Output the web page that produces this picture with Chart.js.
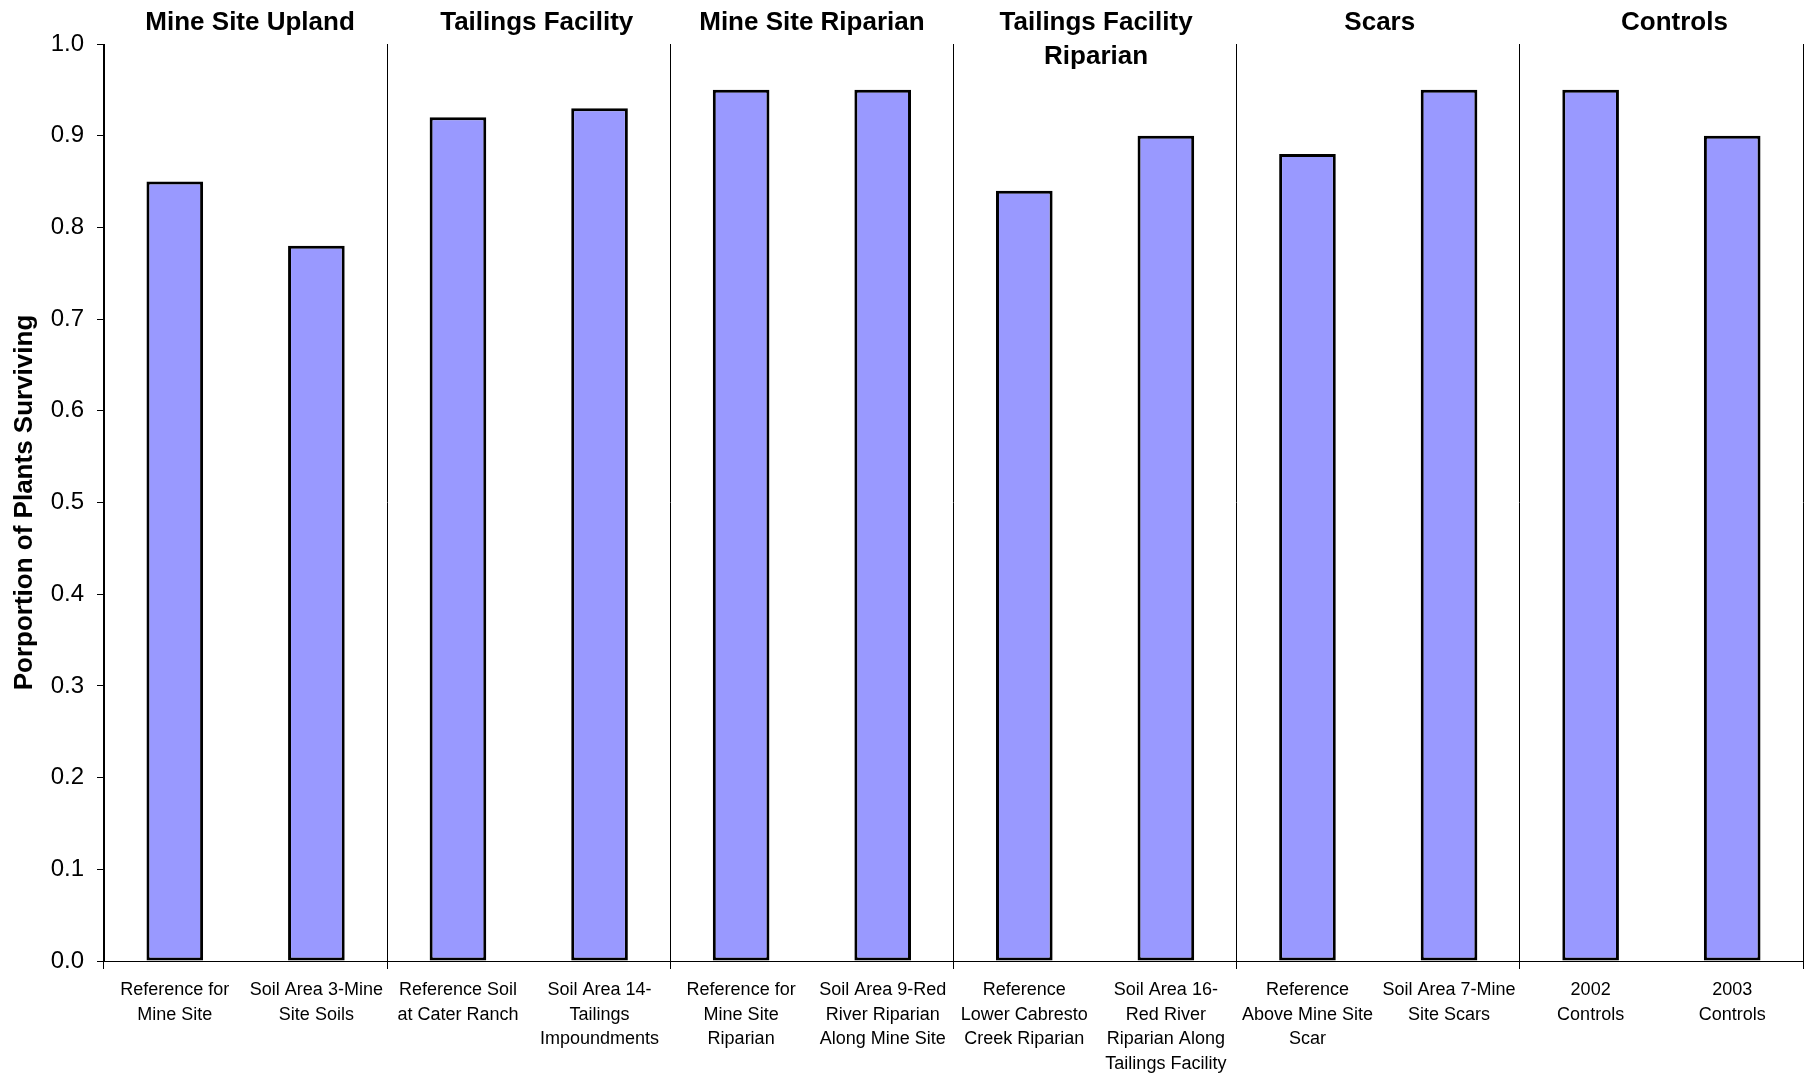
<!DOCTYPE html>
<html>
<head>
<meta charset="utf-8">
<title>Proportion of Plants Surviving</title>
<script src="https://cdn.jsdelivr.net/npm/chart.js@4/dist/chart.umd.min.js"></script>
<style>
  html, body { margin: 0; padding: 0; background: #fff; }
  canvas { display: block; }
</style>
</head>
<body>
<canvas id="chart" width="1811" height="1075"></canvas>
<script>
// Site categories (multi-line tick labels)
const categories = [
  ["Reference for", "Mine Site"],
  ["Soil Area 3-Mine", "Site Soils"],
  ["Reference Soil", "at Cater Ranch"],
  ["Soil Area 14-", "Tailings", "Impoundments"],
  ["Reference for", "Mine Site", "Riparian"],
  ["Soil Area 9-Red", "River Riparian", "Along Mine Site"],
  ["Reference", "Lower Cabresto", "Creek Riparian"],
  ["Soil Area 16-", "Red River", "Riparian Along", "Tailings Facility"],
  ["Reference", "Above Mine Site", "Scar"],
  ["Soil Area 7-Mine", "Site Scars"],
  ["2002", "Controls"],
  ["2003", "Controls"]
];

// Proportion of plants surviving at each site
const survival = [0.85, 0.78, 0.92, 0.93, 0.95, 0.95, 0.84, 0.90, 0.88, 0.95, 0.95, 0.90];

// Group headings, each covering two consecutive categories
const groupTitles = [
  ["Mine Site Upland"],
  ["Tailings Facility"],
  ["Mine Site Riparian"],
  ["Tailings Facility", "Riparian"],
  ["Scars"],
  ["Controls"]
];
const groupSize = 2;

// Y axis range
const yMin = 0;
const yMax = 1.0;
const yStep = 0.1;

Chart.defaults.font.family = "'Liberation Sans', Arial, sans-serif";
Chart.defaults.color = '#000';

// Draws the bold group headings over each pair of bars
const groupTitlePlugin = {
  id: 'groupTitles',
  afterDraw(chart) {
    // small horizontal nudges (px) of each heading from its group centre
    const nudge = [4.5, 8, 0, 1, 1.5, 13];
    const ctx = chart.ctx;
    const x = chart.scales.x;
    ctx.save();
    ctx.font = "bold 26px 'Liberation Sans', Arial, sans-serif";
    ctx.fillStyle = '#000';
    ctx.textAlign = 'center';
    ctx.textBaseline = 'middle';
    groupTitles.forEach((lines, g) => {
      const first = x.getPixelForValue(g * groupSize);
      const last = x.getPixelForValue(g * groupSize + groupSize - 1);
      const cx = (first + last) / 2 + nudge[g];
      lines.forEach((line, i) => {
        ctx.fillText(line, cx, 22.5 + i * 34);
      });
    });
    ctx.restore();
  }
};

new Chart(document.getElementById('chart'), {
  type: 'bar',
  data: {
    labels: categories,
    datasets: [{
      data: survival,
      backgroundColor: '#9999FF',
      borderColor: '#000',
      borderWidth: 3,
      borderSkipped: false,
      barPercentage: 0.4,
      categoryPercentage: 1.0
    }]
  },
  options: {
    responsive: false,
    animation: false,
    layout: { padding: { top: 44, right: 8, left: 0, bottom: 0 } },
    plugins: {
      legend: { display: false },
      tooltip: { enabled: false }
    },
    scales: {
      x: {
        offset: true,
        grid: {
          offset: true,
          drawOnChartArea: true,
          drawTicks: true,
          tickLength: 8,
          lineWidth: 1,
          color: (c) => (c.index === undefined || c.index % groupSize === 0) ? '#000' : 'rgba(0,0,0,0)'
        },
        border: { display: true, color: '#000', width: 1 },
        ticks: {
          autoSkip: false,
          maxRotation: 0,
          minRotation: 0,
          padding: 9,
          color: '#000',
          font: { size: 18, lineHeight: 1.36 }
        },
        afterFit(scale) { scale.height = 114; }
      },
      y: {
        min: yMin,
        max: yMax,
        grid: {
          drawOnChartArea: false,
          drawTicks: true,
          tickLength: 7,
          color: '#000'
        },
        border: { display: true, color: '#000', width: 1 },
        ticks: {
          stepSize: yStep,
          padding: 13,
          color: '#000',
          font: { size: 24 },
          callback: (v) => Number(v).toFixed(1)
        },
        title: {
          display: true,
          text: 'Porportion of Plants Surviving',
          color: '#000',
          font: { size: 26, weight: 'bold', lineHeight: 1.2 },
          padding: { top: 9, bottom: 0 }
        },
        afterFit(scale) { scale.width = 104; }
      }
    }
  },
  plugins: [groupTitlePlugin]
});
</script>
</body>
</html>
